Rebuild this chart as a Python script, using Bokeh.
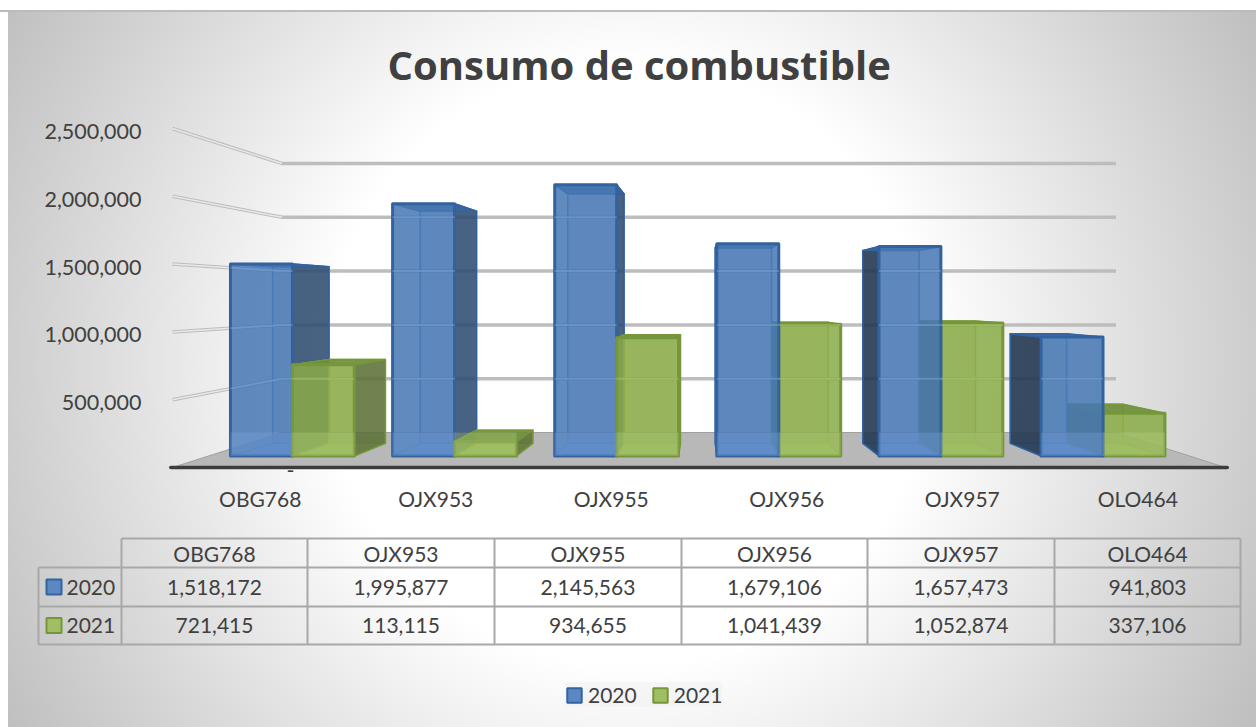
from bokeh.plotting import figure
from bokeh.layouts import column
from bokeh.models import FixedTicker, Range1d, ColumnDataSource, Legend, LegendItem, Label
from bokeh.embed import file_html
from bokeh.resources import INLINE
from bokeh.core.properties import value

# ---------- data ----------
TITLE = "Consumo de combustible"
CATEGORIES = ["OBG768", "OJX953", "OJX955", "OJX956", "OJX957", "OLO464"]
SERIES_NAMES = ["2020", "2021"]
VALUES_2020 = [1518172, 1995877, 2145563, 1679106, 1657473, 941803]
VALUES_2021 = [721415, 113115, 934655, 1041439, 1052874, 337106]
Y_TICKS = [0, 500000, 1000000, 1500000, 2000000, 2500000]
Y_TICK_LABELS = ["-", "500,000", "1,000,000", "1,500,000", "2,000,000", "2,500,000"]

# ---------- style ----------
FONT = "Lato"
INK = "#404040"
FS = "21px"
BLUE = dict(front="#4778b4", edge="#33639f", inner="#4f85cc", back="#2e5a94", top="#3a659c",
            right="#2f4c70", left="#243850", band="#86b0e6", floor="#7fa9e6")
GREEN = dict(front="#8aab48", edge="#76963a", inner="#93b552", back="#6f8f3c", top="#6f8f3c",
             right="#5c7038", left="#5c7038", band="#b5d07a", floor="#bcd884")
STY = [BLUE, GREEN]

# ---------- 3-D projection onto the front plane of the axes ----------
V_MAX = Y_TICKS[-1]
PX_PER_MAX, FLOOR_RISE, HEIGHT_LOSS = 339.0, 35.0, 70.0
CX = 3.0
WALL_K, BAR_K = 0.208, 0.231
D_FRONT, D_BACK = 0.33, 0.69
U_OFF, U_W = 0.11, 0.382
UNIT_X = 175.5
X0_PX = 172.0
Y0_PX = 467.0
LABEL_DROP = 3.0 / PX_PER_MAX * V_MAX   # tick labels sit 3 px below the wall lines


def Y(v, d):
    return V_MAX * FLOOR_RISE / PX_PER_MAX * d + v * (1 - HEIGHT_LOSS / PX_PER_MAX * d)


def X(u, d, k=BAR_K):
    return CX + (u - CX) * (1 - k * d)


FIG_W, FIG_H = 1256, 727
TOP_H = 522
FRAME_L, FRAME_R, FRAME_T, FRAME_B = 160, 1256, 95, 474

p = figure(width=FIG_W, height=TOP_H, output_backend="svg", toolbar_location=None,
           x_range=Range1d((FRAME_L - X0_PX) / UNIT_X, (FRAME_R - X0_PX) / UNIT_X),
           y_range=Range1d((Y0_PX - FRAME_B) / PX_PER_MAX * V_MAX, (Y0_PX - FRAME_T) / PX_PER_MAX * V_MAX),
           min_border_left=FRAME_L, min_border_right=0,
           min_border_top=FRAME_T, min_border_bottom=TOP_H - FRAME_B,
           border_fill_color=None, background_fill_color=None, outline_line_color=None)
p.frame_align = False
p.grid.visible = False
p.title.text = TITLE
p.title.text_font = "Open Sans"
p.title.text_font_size = "40px"
p.title.text_font_style = "bold"
p.title.text_color = INK
p.title.align = "left"
p.title.offset = 227
p.title.standoff = 8

ya = p.yaxis[0]
tick_pos = [tv - LABEL_DROP for tv in Y_TICKS[1:]]
ya.ticker = FixedTicker(ticks=tick_pos)
ya.major_label_overrides = {tp: l for tp, l in zip(tick_pos, Y_TICK_LABELS[1:])}
ya.axis_line_color = None
ya.major_tick_line_color = None
ya.minor_tick_line_color = None
ya.major_label_standoff = 13
ya.major_label_text_font = FONT
ya.major_label_text_font_size = "21.5px"
ya.major_label_text_color = INK

# the zero label of an accounting format stands a little in from the others
p.add_layout(Label(x=134, x_units="screen", y=Y_TICKS[0] - LABEL_DROP, text=Y_TICK_LABELS[0],
                   text_align="right", text_baseline="middle", text_font=FONT,
                   text_font_size="21.5px", text_color=INK))

xa = p.xaxis[0]
xa.ticker = FixedTicker(ticks=[i + 0.5 for i in range(len(CATEGORIES))])
xa.major_label_overrides = {i + 0.5: c for i, c in enumerate(CATEGORIES)}
xa.axis_line_color = None
xa.major_tick_line_color = None
xa.minor_tick_line_color = None
xa.major_label_standoff = 5
xa.major_label_text_font = FONT
xa.major_label_text_font_size = FS
xa.major_label_text_color = INK

# floor
n = len(CATEGORIES)
p.patch([X(0, 0, WALL_K), X(n, 0, WALL_K), X(n, 1, WALL_K), X(0, 1, WALL_K)],
        [Y(0, 0), Y(0, 0), Y(0, 1), Y(0, 1)], fill_color="#b8b8b8", line_color="#a0a0a0", line_width=1)

# gridlines (side wall + back wall)
for tv in Y_TICKS[1:]:
    xs = [X(0, 0, WALL_K), X(0, 1, WALL_K), X(n, 1, WALL_K)]
    ys = [Y(tv, 0), Y(tv, 1), Y(tv, 1)]
    p.line(xs, ys, line_color="#bdbdbd", line_width=3.5, line_join="miter")
    p.line(xs[:2], ys[:2], line_color="#e8e8e8", line_width=1.5)

# bars
faces = dict(xs=[], ys=[], fill=[], alpha=[], line=[], lw=[])


def face(xs, ys, fill, alpha, line, lw):
    faces["xs"].append(xs); faces["ys"].append(ys); faces["fill"].append(fill)
    faces["alpha"].append(alpha); faces["line"].append(line); faces["lw"].append(lw)


bars = []
for s, vals in enumerate([VALUES_2020, VALUES_2021]):
    for g, v in enumerate(vals):
        bars.append((g, s, v))
bars.sort(key=lambda b: -abs(b[0] + U_OFF + (b[1] + 0.5) * U_W - CX))

overlay = dict(xs=[], ys=[], color=[])
patches_over = dict(xs=[], ys=[], fill=[])

for g, s, v in bars:
    st = STY[s]
    u0 = g + U_OFF + s * U_W
    u1 = u0 + U_W
    xf0, xf1, xb0, xb1 = X(u0, D_FRONT), X(u1, D_FRONT), X(u0, D_BACK), X(u1, D_BACK)
    yf0, yf1, yb0, yb1 = Y(0, D_FRONT), Y(v, D_FRONT), Y(0, D_BACK), Y(v, D_BACK)
    # back, bottom
    face([xb0, xb1, xb1, xb0], [yb0, yb0, yb1, yb1], st["back"], 0.22, st["inner"], 1.5)
    face([xf0, xf1, xb1, xb0], [yf0, yf0, yb0, yb0], st["floor"], 0.75, st["inner"], 1)
    left_vis = xf0 > xb0
    right_vis = xb1 > xf1
    # hidden sides first
    if not left_vis:
        face([xf0, xb0, xb0, xf0], [yf0, yb0, yb1, yf1], st["back"], 0.12, st["inner"], 1)
    if not right_vis:
        face([xf1, xb1, xb1, xf1], [yf0, yb0, yb1, yf1], st["back"], 0.12, st["inner"], 1)
    if left_vis:
        face([xf0, xb0, xb0, xf0], [yf0, yb0, yb1, yf1], st["left"], 0.88, st["edge"], 1.5)
    if right_vis:
        face([xf1, xb1, xb1, xf1], [yf0, yb0, yb1, yf1], st["right"], 0.85, st["edge"], 1.5)
    face([xf0, xf1, xb1, xb0], [yf1, yf1, yb1, yb1], st["top"], 0.92, st["edge"], 1.5)
    face([xf0, xf1, xf1, xf0], [yf0, yf0, yf1, yf1], st["front"], 0.84, st["edge"], 3)

    # light bands where the walls' gridlines and the floor show through the front face
    wx = X(0, 1, WALL_K)
    for tv in Y_TICKS[1:]:
        def gy(x):
            if x >= wx:
                return Y(tv, 1)
            f = (x - X(0, 0, WALL_K)) / (wx - X(0, 0, WALL_K))
            return Y(tv, 0) + (Y(tv, 1) - Y(tv, 0)) * f
        xs = [xf0] + ([wx] if xf0 < wx < xf1 else []) + [xf1]
        ys = [gy(x) for x in xs]
        if max(ys) < yf1:
            overlay["xs"].append(xs); overlay["ys"].append(ys); overlay["color"].append(st["band"])
    patches_over["xs"].append([xf0, xf1, xf1, xf0])
    patches_over["ys"].append([yf0, yf0, Y(0, 1), Y(0, 1)])
    patches_over["fill"].append(st["floor"])

p.patches("xs", "ys", source=ColumnDataSource(faces), fill_color="fill", fill_alpha="alpha",
          line_color="line", line_width="lw", line_join="round")
p.patches("xs", "ys", source=ColumnDataSource(patches_over), fill_color="fill", fill_alpha=0.3, line_color=None)
p.multi_line("xs", "ys", source=ColumnDataSource(overlay), line_color="color", line_alpha=0.4, line_width=2)

# front edge of the floor
p.line([X(0, 0, WALL_K) - 0.01, X(n, 0, WALL_K) + 0.01], [Y(0, 0), Y(0, 0)],
       line_color="#3c3c3c", line_width=3.5, line_cap="round")

# ---------- data table + legend ----------
BOT_H = FIG_H - TOP_H
t = figure(width=FIG_W, height=BOT_H, output_backend="svg", toolbar_location=None,
           x_range=Range1d(0, FIG_W), y_range=Range1d(FIG_H, TOP_H),
           min_border=0, border_fill_color=None, background_fill_color=None, outline_line_color=None)
t.frame_align = False
t.axis.visible = False
t.grid.visible = False

COL_EDGES = [121, 307, 494, 681, 867, 1054, 1240]
ROW_EDGES = [538, 567, 606, 644]
HEAD_L = 38
seg_x, seg_y = [], []
for i, y in enumerate(ROW_EDGES):
    seg_x.append([COL_EDGES[0] if i == 0 else HEAD_L, COL_EDGES[-1]])
    seg_y.append([y, y])
for x in COL_EDGES:
    seg_x.append([x, x]); seg_y.append([ROW_EDGES[0], ROW_EDGES[-1]])
seg_x.append([HEAD_L, HEAD_L]); seg_y.append([ROW_EDGES[1], ROW_EDGES[-1]])
t.multi_line(seg_x, seg_y, line_color="#a8a8a8", line_width=2)

cell_x, cell_y, cell_t = [], [], []
centers = [(COL_EDGES[i] + COL_EDGES[i + 1]) / 2 for i in range(n)]
row_c = [(ROW_EDGES[i] + ROW_EDGES[i + 1]) / 2 for i in range(3)]
for i, c in enumerate(CATEGORIES):
    cell_x.append(centers[i]); cell_y.append(row_c[0]); cell_t.append(c)
    cell_x.append(centers[i]); cell_y.append(row_c[1]); cell_t.append(f"{VALUES_2020[i]:,}")
    cell_x.append(centers[i]); cell_y.append(row_c[2]); cell_t.append(f"{VALUES_2021[i]:,}")
t.text(cell_x, cell_y, text=cell_t, text_align="center", text_baseline="middle",
       text_font=value(FONT), text_font_size=FS, text_color=INK)
t.text([66, 66], row_c[1:], text=SERIES_NAMES, text_align="left", text_baseline="middle",
       text_font=value(FONT), text_font_size=FS, text_color=INK)

swatches = []
for i, st in enumerate(STY):
    rc = row_c[i + 1]
    q = t.quad(left=[46], right=[61], top=[rc - 7.5], bottom=[rc + 7.5],
               fill_color=["#5b88c2", "#a0bf64"][i], fill_alpha=1, line_color=st["edge"], line_width=2)
    swatches.append(q)

leg = Legend(items=[LegendItem(label=nm, renderers=[q]) for nm, q in zip(SERIES_NAMES, swatches)],
             orientation="horizontal", location=(565, 20), margin=0, padding=13, spacing=14,
             glyph_width=18, glyph_height=18, label_standoff=5,
             label_text_font=FONT, label_text_font_size=FS, label_text_color=INK,
             background_fill_color="#f2f2f2", background_fill_alpha=0.7, border_line_color=None)
t.add_layout(leg)

# page background: white margin to the sheet, then a radial shade
page = column(p, t, width=FIG_W, height=FIG_H, spacing=0, styles={
    "background": "linear-gradient(#ffffff 0 10px, #bcbcbc 10px 12px, transparent 12px), "
                  "linear-gradient(90deg, #ffffff 0 8px, transparent 8px), "
                  "radial-gradient(circle at 628px 364px, #ffffff 0, #ffffff 300px, #bfbfbf 720px)"})

open("out.html", "w").write(file_html(page, INLINE))
